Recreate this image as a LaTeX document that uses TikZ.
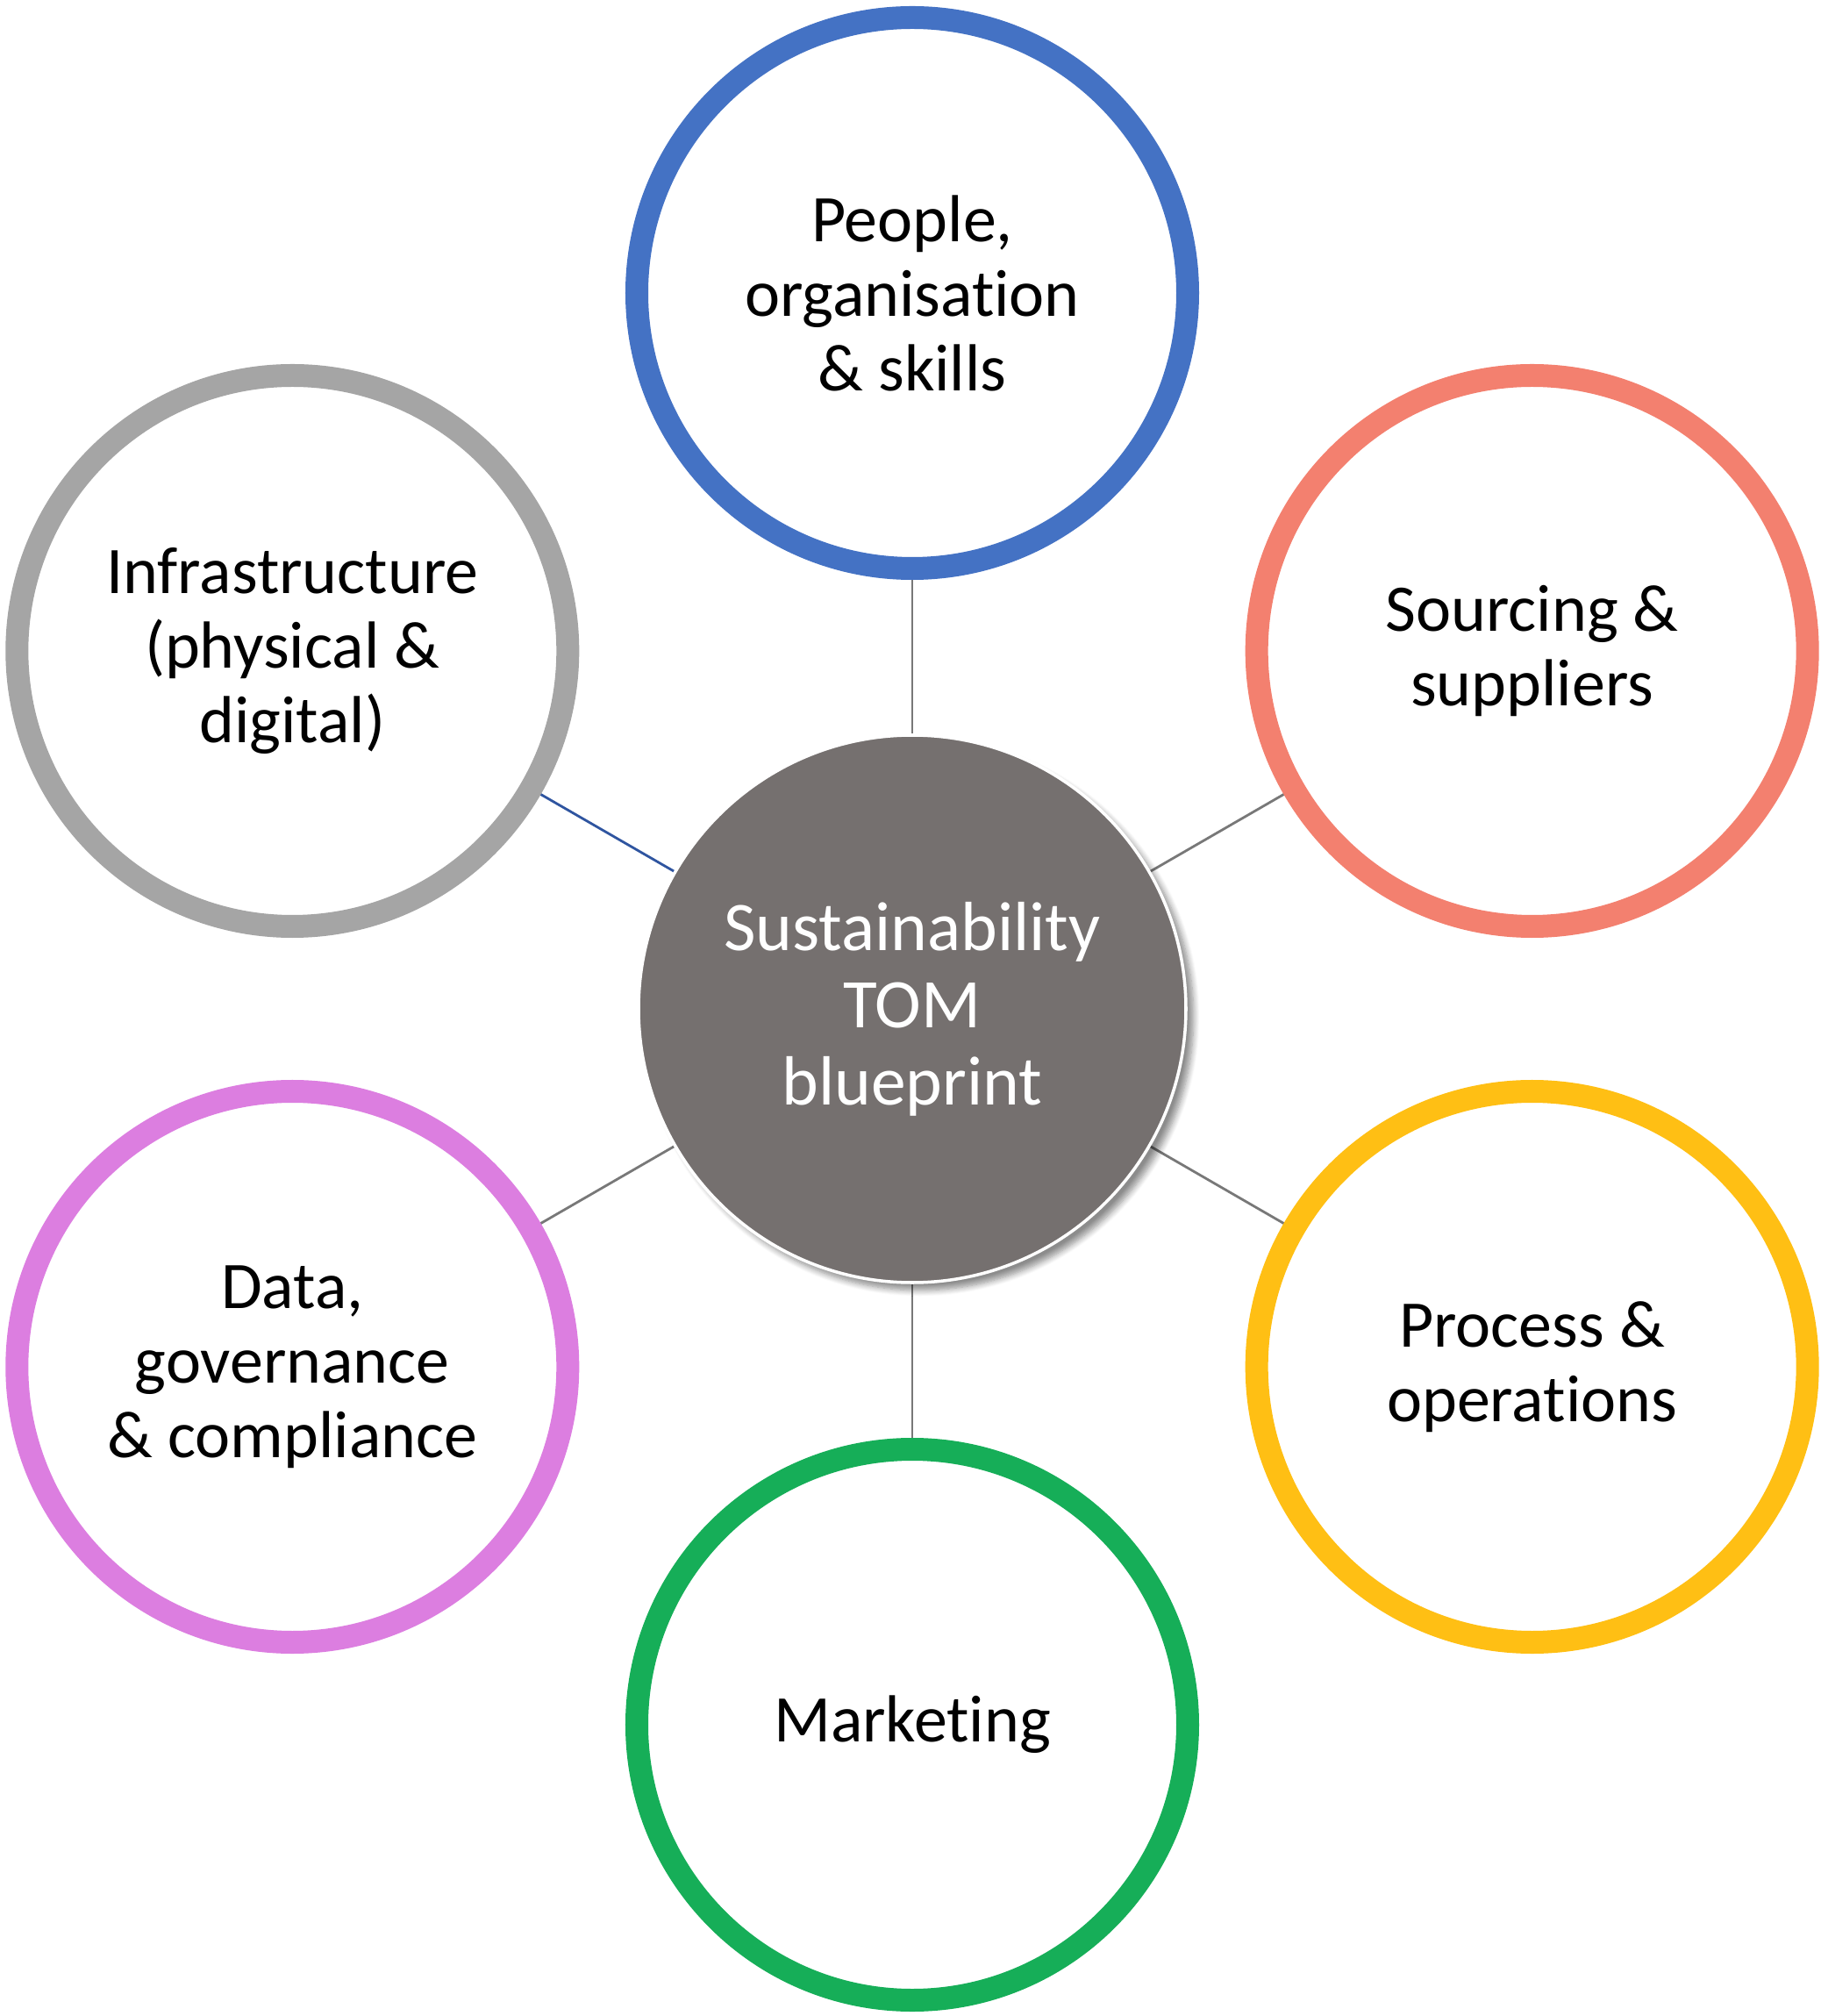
\documentclass[tikz,border=0pt]{standalone}
\usepackage{fontspec}
\setmainfont{Carlito}[Ligatures=NoCommon]
\usetikzlibrary{backgrounds,shadows.blur}

\definecolor{ringblue}{RGB}{68,114,196}
\definecolor{ringsalmon}{RGB}{243,128,111}
\definecolor{ringgold}{RGB}{255,191,20}
\definecolor{ringgreen}{RGB}{22,174,88}
\definecolor{ringpink}{RGB}{220,126,224}
\definecolor{ringgray}{RGB}{165,165,165}
\definecolor{tomgray}{RGB}{117,112,111}
\definecolor{linkgray}{RGB}{120,120,120}
\definecolor{linkblue}{RGB}{47,85,160}

\begin{document}
\begin{tikzpicture}[
    ring/.style={circle, draw=#1, line width=7.4pt, fill=white, minimum size=6.28cm,
        inner sep=0pt, outer sep=0pt, align=center, font=\fontsize{21.6}{24.2}\selectfont},
    hub/.style={circle, fill=tomgray, draw=white, line width=1pt, minimum size=6.24cm,
        inner sep=0pt, outer sep=0pt, align=center, text=white,
        font=\fontsize{22.6}{25}\selectfont,
        blur shadow={shadow xshift=2.5pt, shadow yshift=-2.5pt, shadow blur steps=8, shadow opacity=45}},
    link/.style={draw=#1, line width=0.8pt}
]
    % Distance from the centre to each ring
    \def\hubdist{8.16}

    \useasboundingbox (-10.40,-11.48) rectangle (10.36,11.50);

    % Centre
    \node[hub] (tom) at (0,0) {Sustainability\\TOM\\blueprint};

    % Rings around the centre
    \node[ring=ringblue]   (people)    at (90:\hubdist)  {People,\\organisation\\\& skills};
    \node[ring=ringsalmon] (sourcing)  at (30:\hubdist)  {Sourcing \&\\suppliers};
    \node[ring=ringgold]   (process)   at (-30:\hubdist) {Process \&\\operations};
    \node[ring=ringgreen]  (marketing) at (-90:\hubdist) {Marketing};
    \node[ring=ringpink]   (data)      at (210:\hubdist) {Data,\\governance\\\& compliance};
    \node[ring=ringgray]   (infra)     at (150:\hubdist) {Infrastructure\\(physical \&\\digital)};

    % Connectors
    \begin{scope}[on background layer]
        \draw[link=linkgray] (tom) -- (people);
        \draw[link=linkgray] (tom) -- (sourcing);
        \draw[link=linkgray] (tom) -- (process);
        \draw[link=linkgray] (tom) -- (marketing);
        \draw[link=linkgray] (tom) -- (data);
        \draw[link=linkblue] (tom) -- (infra);
    \end{scope}
\end{tikzpicture}
\end{document}
